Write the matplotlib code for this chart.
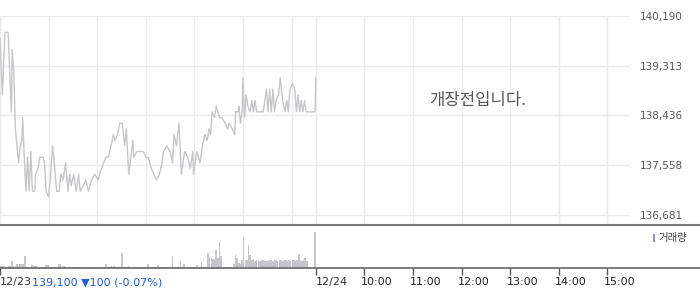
import matplotlib
matplotlib.use("Agg")
import matplotlib.pyplot as plt
from matplotlib.lines import Line2D
from matplotlib.patches import Rectangle

# ---- data ----
price_minutes = [0, 3, 6, 10, 14, 15, 17, 19, 23, 25,
                 27, 28, 30, 32, 34, 36, 38, 40, 43, 44,
                 47, 49, 53, 55, 57, 60, 62, 65, 67, 70,
                 73, 75, 78, 81, 84, 86, 88, 91, 94, 97,
                 99, 103, 106, 109, 113, 117, 121, 123, 128, 131,
                 134, 137, 140, 142, 145, 148, 151, 154, 156, 159,
                 164, 165, 169, 173, 177, 180, 183, 187, 190, 193,
                 197, 200, 202, 206, 210, 213, 215, 218, 221, 224,
                 228, 232, 235, 238, 239, 243, 247, 250, 253, 256,
                 258, 260, 262, 265, 267, 271, 274, 278, 281, 283,
                 287, 290, 291, 294, 295, 297, 299, 300, 302, 304,
                 306, 309, 311, 313, 315, 317, 325, 327, 329, 331,
                 333, 335, 337, 339, 341, 344, 346, 349, 352, 354,
                 356, 358, 361, 364, 366, 368, 370, 372, 374, 376,
                 378, 389, 390]
price_values = [139800, 138800, 139900, 139900, 138500, 139600, 139200, 138200, 137600, 137900,
                138000, 138400, 137700, 137100, 137700, 137100, 137800, 137100, 137100, 137400,
                137500, 137700, 137700, 137600, 137100, 137000, 137300, 137900, 137600, 137100,
                137100, 137400, 137300, 137600, 137100, 137400, 137200, 137400, 137100, 137400,
                137100, 137200, 137300, 137100, 137300, 137400, 137300, 137400, 137600, 137700,
                137700, 137900, 138100, 138000, 138100, 138300, 138300, 137900, 138200, 137400,
                138000, 137700, 137800, 137800, 137800, 137700, 137700, 137500, 137400, 137300,
                137400, 137600, 137800, 137900, 137800, 137600, 138100, 137900, 138300, 137400,
                137800, 137700, 137500, 137800, 137400, 137800, 137600, 137900, 138100, 138000,
                138200, 138100, 138500, 138400, 138600, 138400, 138400, 138300, 138200, 138300,
                138200, 138100, 138500, 138500, 138600, 138300, 138500, 139100, 138400, 138800,
                138600, 138500, 138700, 138500, 138700, 138500, 138500, 138700, 138900, 138500,
                138900, 138500, 138900, 138500, 138700, 138800, 139100, 138700, 138500, 138700,
                138500, 138900, 139000, 138900, 138500, 138800, 138500, 138700, 138500, 138700,
                138500, 138500, 139100]

# volume per 2-minute bin (thousand shares), 12/23 session
volume_values = [2.7, 2.0, 2.7, 1.0, 1.0, 2.7, 2.7, 7.0, 2.7, 2.0,
                 4.7, 2.7, 4.0, 4.0, 4.0, 12.3, 1.0, 1.0, 0.7, 3.3,
                 3.3, 2.7, 2.7, 0.7, 1.7, 1.7, 1.7, 0.7, 3.3, 3.3,
                 1.7, 1.7, 1.7, 1.7, 0.7, 1.0, 4.0, 4.0, 2.7, 2.7,
                 1.7, 0.7, 1.0, 0.0, 1.3, 0.7, 1.0, 0.0, 1.3, 1.0,
                 0.7, 1.3, 0.0, 1.0, 1.3, 0.7, 1.0, 0.0, 1.3, 1.0,
                 0.7, 1.3, 1.0, 0.0, 1.0, 4.0, 0.7, 1.3, 2.0, 1.7,
                 2.0, 1.3, 1.7, 0.7, 1.0, 15.0, 1.7, 1.3, 1.7, 2.7,
                 1.7, 0.7, 1.0, 1.0, 0.7, 1.0, 1.0, 0.0, 0.7, 1.0,
                 0.7, 4.0, 0.7, 0.0, 1.0, 0.7, 0.0, 3.3, 0.7, 1.7,
                 1.0, 1.7, 1.0, 0.7, 0.0, 0.7, 12.0, 1.0, 1.7, 1.0,
                 0.7, 7.0, 1.0, 4.0, 0.7, 0.0, 1.0, 1.7, 1.0, 1.7,
                 0.7, 3.3, 0.0, 0.7, 6.0, 0.7, 1.0, 0.0, 15.0, 11.0,
                 10.0, 9.0, 9.0, 18.0, 10.0, 26.0, 12.0, 0.7, 0.0, 1.0,
                 1.7, 1.0, 1.7, 0.7, 4.0, 13.0, 10.0, 5.0, 4.0, 8.0,
                 31.0, 8.0, 8.0, 23.0, 13.0, 8.0, 9.0, 7.7, 8.3, 8.0,
                 7.3, 8.0, 8.7, 7.7, 8.0, 7.3, 8.3, 8.0, 7.7, 8.7,
                 8.0, 7.3, 8.0, 8.3, 7.7, 8.0, 8.7, 7.3, 8.0, 7.7,
                 8.3, 8.0, 7.7, 8.0, 14.0, 8.3, 7.7, 8.0, 10.0, 7.0,
                 0.0, 0.0, 0.0, 0.0, 36.0]
volume_bin_minutes = 2

y_ticks = [136681, 137558, 138436, 139313, 140190]
y_tick_labels = ["136,681", "137,558", "138,436", "139,313", "140,190"]
grid_minutes = [0, 60, 120, 180, 240, 300, 360, 390, 450, 510, 570, 630, 690, 750]
x_tick_minutes = [0, 390, 450, 510, 570, 630, 690, 750]
x_tick_labels = ["12/23", "12/24", "10:00", "11:00", "12:00", "13:00", "14:00", "15:00"]
last_price_text = "139,100 \u25bc100 (-0.07%)"
notice_text = "개장전입니다."
legend_text = "거래량"

# ---- figure ----
W, H = 700, 289
fig = plt.figure(figsize=(W / 100, H / 100), dpi=100)
fig.patch.set_facecolor("white")

x_max = 778
line_col = "#c6c6cc"
grid_col = "#ebebeb"

ax = fig.add_axes([0, (H - 225) / H, 630 / W, (225 - 16) / H])
ax.plot(price_minutes, price_values, color=line_col, lw=1.0)
ax.set_xlim(0, x_max)
ax.set_ylim(136505, 140190)
ax.set_yticks(y_ticks)
ax.set_yticklabels(y_tick_labels)
ax.yaxis.tick_right()
ax.tick_params(axis="y", length=0, pad=7, labelsize=7.5, labelcolor="#555555")
ax.set_xticks(grid_minutes)
ax.tick_params(axis="x", length=0, labelbottom=False)
ax.grid(True, color=grid_col, lw=1)
ax.set_axisbelow(True)
for s in ax.spines.values():
    s.set_visible(False)
ax.text(0.759, 0.598, notice_text, transform=ax.transAxes, ha="center", va="center",
        fontsize=12, color="#555555", family=["Noto Sans CJK KR", "DejaVu Sans"])

# volume panel
axv = fig.add_axes([0, (H - 268.3) / H, 630 / W, (268.3 - 225) / H])
vx = [i * volume_bin_minutes for i in range(len(volume_values))]
axv.bar(vx, volume_values, width=1.9, align="edge", color="#c6c6cb", lw=0)
axv.set_xlim(0, x_max)
axv.set_ylim(0, 43.3)
axv.set_yticks([])
axv.set_xticks(x_tick_minutes)
axv.set_xticklabels([])
axv.tick_params(axis="x", direction="out", length=5, width=1, color="#555555")
for s in axv.spines.values():
    s.set_visible(False)

# full-width separator lines
fig.add_artist(Line2D([0, 1], [(H - 225) / H] * 2, color="#777777", lw=1.5))
fig.add_artist(Line2D([0, 1], [(H - 268.3) / H] * 2, color="#666666", lw=1.2))

# x labels
trans = axv.get_xaxis_transform()
first = None
for m, lab in zip(x_tick_minutes, x_tick_labels):
    dx = 0 if "/" in lab else -3.5
    t = axv.annotate(lab, xy=(m, 0), xycoords=trans, xytext=(dx, -14), textcoords="offset pixels",
                     ha="left", va="center", fontsize=8, color="#333333" if "/" in lab else "#222222")
    if first is None:
        first = t
axv.annotate(last_price_text, xy=(1, 0.5), xycoords=first, xytext=(0, 0), textcoords="offset pixels",
             ha="left", va="center", fontsize=8, color="#1f5fd8")

# legend
fig.add_artist(Rectangle((652.5 / W, (H - 242) / H), 2.7 / W, 8 / H, transform=fig.transFigure,
                         color="#9a88c8", lw=0))
fig.text(658 / W, (H - 238) / H, legend_text, ha="left", va="center", fontsize=7.5,
         color="#444444", family=["Noto Sans CJK KR", "DejaVu Sans"])

fig.savefig("out.png", dpi=100)
